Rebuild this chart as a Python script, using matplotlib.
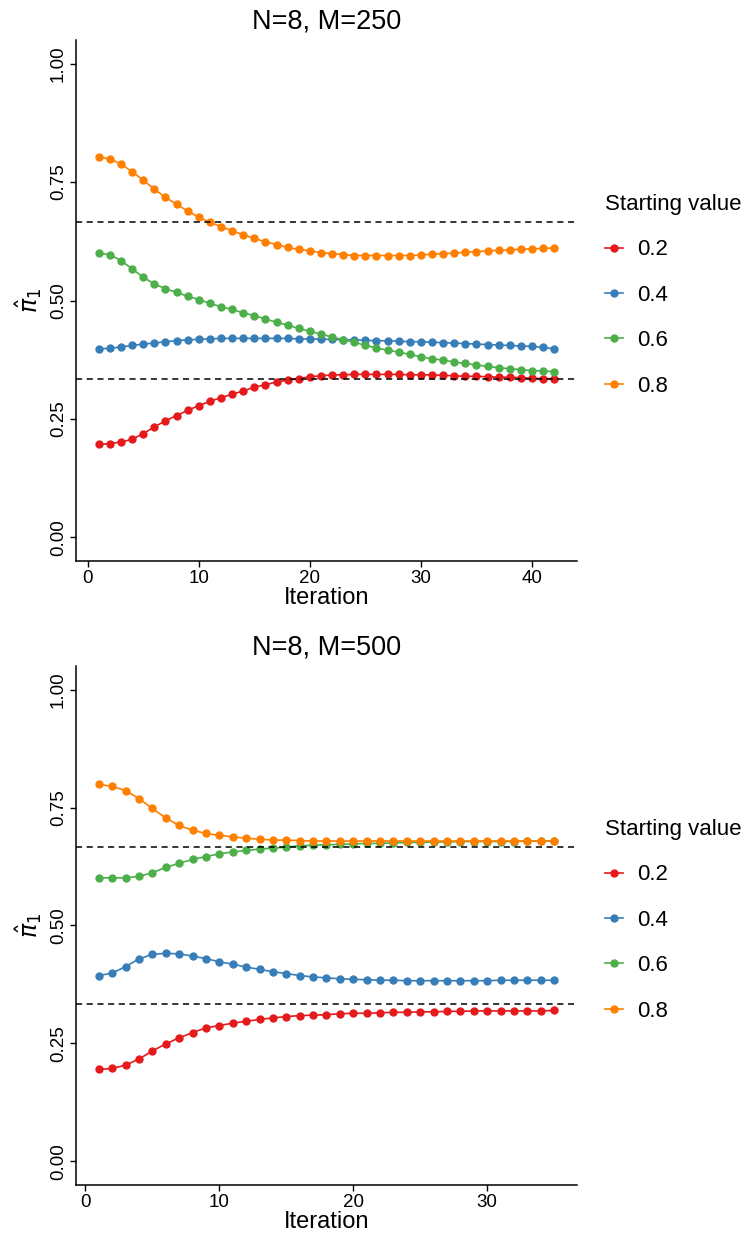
import numpy as np
import matplotlib
matplotlib.use("Agg")
import matplotlib.pyplot as plt

plt.rcParams['font.family'] = ['Liberation Sans', 'DejaVu Sans']

starts = ["0.2", "0.4", "0.6", "0.8"]
colors = ["#E41A1C", "#377EB8", "#4DAF4A", "#FF7F00"]

# N=8, M=250 (42 iterations)
m250_02 = [0.196, 0.198, 0.201, 0.207, 0.219, 0.233, 0.246, 0.257, 0.268, 0.278,
           0.287, 0.295, 0.302, 0.309, 0.317, 0.322, 0.328, 0.332, 0.335, 0.339,
           0.341, 0.343, 0.343, 0.344, 0.344, 0.344, 0.344, 0.344, 0.343, 0.343,
           0.343, 0.342, 0.341, 0.340, 0.340, 0.339, 0.338, 0.338, 0.337, 0.336,
           0.335, 0.335]
m250_04 = [0.398, 0.399, 0.402, 0.405, 0.408, 0.410, 0.413, 0.415, 0.417, 0.418,
           0.419, 0.420, 0.420, 0.420, 0.420, 0.420, 0.420, 0.420, 0.419, 0.419,
           0.418, 0.418, 0.417, 0.417, 0.416, 0.415, 0.415, 0.414, 0.413, 0.413,
           0.412, 0.411, 0.410, 0.409, 0.408, 0.407, 0.406, 0.405, 0.404, 0.403,
           0.401, 0.398]
m250_06 = [0.600, 0.597, 0.584, 0.567, 0.549, 0.535, 0.525, 0.517, 0.509, 0.502,
           0.494, 0.487, 0.481, 0.474, 0.468, 0.461, 0.454, 0.448, 0.441, 0.435,
           0.429, 0.423, 0.417, 0.412, 0.405, 0.400, 0.395, 0.391, 0.386, 0.381,
           0.377, 0.374, 0.370, 0.367, 0.364, 0.361, 0.358, 0.356, 0.354, 0.352,
           0.351, 0.350]
m250_08 = [0.803, 0.799, 0.788, 0.772, 0.754, 0.735, 0.718, 0.703, 0.689, 0.676,
           0.665, 0.656, 0.647, 0.639, 0.631, 0.624, 0.618, 0.612, 0.608, 0.605,
           0.601, 0.599, 0.597, 0.595, 0.595, 0.595, 0.595, 0.595, 0.595, 0.596,
           0.598, 0.599, 0.600, 0.602, 0.603, 0.605, 0.606, 0.607, 0.608, 0.609,
           0.610, 0.611]

# N=8, M=500 (35 iterations)
m500_02 = [0.195, 0.197, 0.204, 0.217, 0.234, 0.249, 0.262, 0.273, 0.283, 0.288,
           0.293, 0.297, 0.301, 0.304, 0.307, 0.309, 0.310, 0.311, 0.313, 0.314,
           0.314, 0.315, 0.316, 0.316, 0.317, 0.317, 0.318, 0.318, 0.319, 0.319,
           0.319, 0.319, 0.319, 0.319, 0.320]
m500_04 = [0.394, 0.399, 0.413, 0.429, 0.439, 0.441, 0.440, 0.435, 0.430, 0.423,
           0.418, 0.412, 0.407, 0.402, 0.398, 0.394, 0.391, 0.389, 0.387, 0.386,
           0.385, 0.384, 0.384, 0.383, 0.383, 0.383, 0.383, 0.383, 0.383, 0.383,
           0.384, 0.384, 0.384, 0.384, 0.384]
m500_06 = [0.601, 0.601, 0.601, 0.604, 0.612, 0.623, 0.632, 0.640, 0.646, 0.652,
           0.656, 0.659, 0.662, 0.664, 0.666, 0.669, 0.670, 0.671, 0.672, 0.673,
           0.674, 0.674, 0.675, 0.676, 0.676, 0.677, 0.677, 0.678, 0.678, 0.678,
           0.678, 0.678, 0.679, 0.679, 0.679]
m500_08 = [0.799, 0.795, 0.786, 0.769, 0.748, 0.728, 0.712, 0.702, 0.695, 0.691,
           0.688, 0.685, 0.683, 0.681, 0.681, 0.680, 0.679, 0.679, 0.679, 0.679,
           0.679, 0.679, 0.679, 0.679, 0.679, 0.679, 0.679, 0.679, 0.679, 0.679,
           0.679, 0.679, 0.679, 0.679, 0.679]

panels = [("N=8, M=250", [m250_02, m250_04, m250_06, m250_08], [0, 10, 20, 30, 40]),
          ("N=8, M=500", [m500_02, m500_04, m500_06, m500_08], [0, 10, 20, 30])]
true_vals = [1 / 3, 2 / 3]

W, H = 743, 1238
fig = plt.figure(figsize=(W / 100, H / 100), dpi=100)
# axes boxes in pixels: left, top, right, bottom
boxes = [(76, 40, 577, 561), (76, 666, 577, 1185)]

for (title, series, xt), (l, t, r, b) in zip(panels, boxes):
    ax = fig.add_axes([l / W, 1 - b / H, (r - l) / W, (b - t) / H])
    n = len(series[0])
    it = np.arange(1, n + 1)
    for s, c, lab in zip(series, colors, starts):
        ax.plot(it, s, color=c, lw=1.2, marker="o", ms=5, mec=c, label=lab)
    for v in true_vals:
        ax.axhline(v, color="black", ls=(0, (4, 3)), lw=1.1, zorder=5)
    span = n - 1
    ax.set_xlim(1 - 0.05 * span, n + 0.05 * span)
    ax.set_ylim(-0.05, 1.05)
    ax.set_xticks(xt)
    ax.set_yticks([0, 0.25, 0.5, 0.75, 1.0])
    ax.set_yticklabels(["0.00", "0.25", "0.50", "0.75", "1.00"], rotation=90, va="center")
    for sp in ["top", "right"]:
        ax.spines[sp].set_visible(False)
    for sp in ["left", "bottom"]:
        ax.spines[sp].set_linewidth(1.1)
    ax.tick_params(direction="out", length=4, width=1.0, labelsize=13.5, colors="black")
    ax.tick_params(axis="y", pad=2.5)
    ax.tick_params(axis="x", pad=2.5)
    ax.set_title(title, fontsize=19.5, pad=8)
    ax.set_xlabel("Iteration", fontsize=17, labelpad=0)
    ax.set_ylabel(r"$\hat{\pi}_1$", fontsize=17, labelpad=4)
    leg = ax.legend(title="Starting value", loc="center left", bbox_to_anchor=(1.015, 0.51),
                    frameon=False, fontsize=16, title_fontsize=16, handlelength=0.85,
                    labelspacing=1.1, alignment="left", handletextpad=0.6)

fig.savefig("out.png", dpi=100)
